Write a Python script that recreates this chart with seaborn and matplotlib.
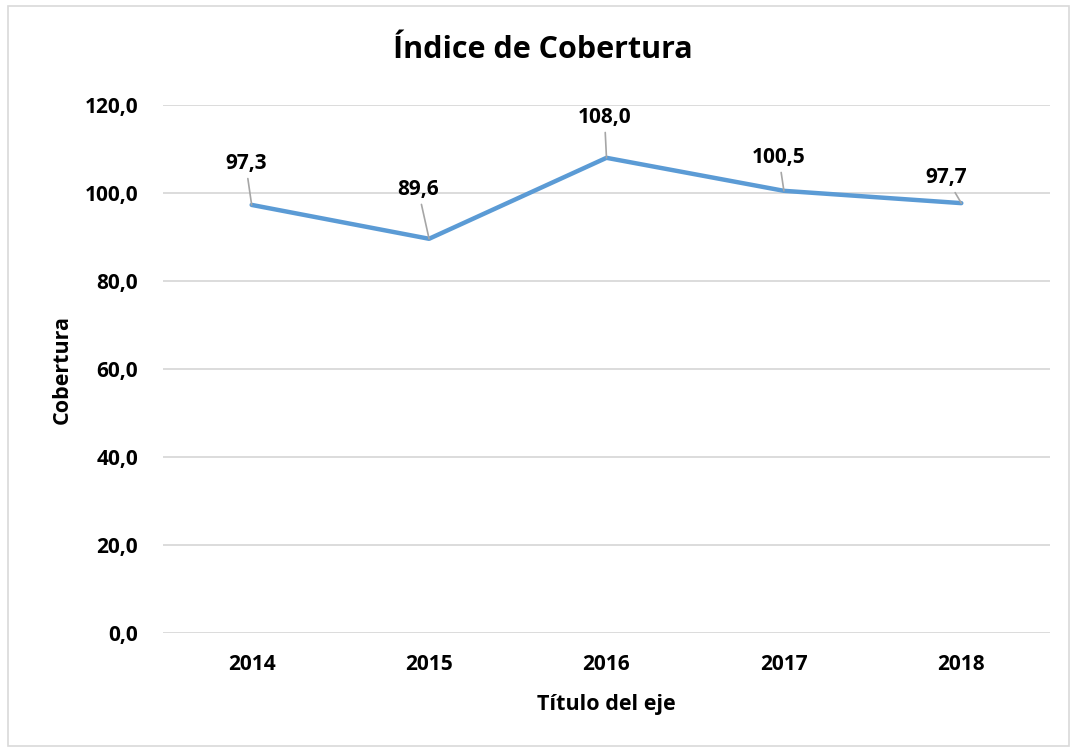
import seaborn as sns
import matplotlib.pyplot as plt
import pandas as pd
from matplotlib.ticker import FuncFormatter, MultipleLocator

anios = ['2014', '2015', '2016', '2017', '2018']
cobertura = [97.3, 89.6, 108.0, 100.5, 97.7]
# desplazamiento de las etiquetas (pixeles) respecto al punto
desp_x = [-6, -11, -2, -5, -15]
desp_y = [31, 39, 30, 23, 15]

df = pd.DataFrame({'anio': anios, 'cobertura': cobertura})

sns.set_style('white')
plt.rcParams['font.family'] = ['Open Sans', 'DejaVu Sans']
plt.rcParams['font.weight'] = 'bold'
plt.rcParams['text.color'] = 'black'
plt.rcParams['xtick.color'] = 'black'
plt.rcParams['ytick.color'] = 'black'
plt.rcParams['axes.labelcolor'] = 'black'

fig = plt.figure(figsize=(10.72, 7.48), dpi=100)
ax = fig.add_axes([0.152, 0.1537, 0.8275, 0.7059])

sns.lineplot(data=df, x='anio', y='cobertura', ax=ax, color='#5B9BD5',
             linewidth=3.2, sort=False)

ax.set_xlim(-0.5, 4.5)
ax.set_ylim(0, 120)
ax.yaxis.set_major_locator(MultipleLocator(20))
ax.yaxis.set_major_formatter(FuncFormatter(lambda v, p: f'{v:.1f}'.replace('.', ',')))
ax.grid(axis='y', color='#D9D9D9', linewidth=1.3)
ax.set_axisbelow(True)
for s in ['top', 'right', 'left', 'bottom']:
    ax.spines[s].set_visible(False)
ax.tick_params(axis='y', length=0, labelsize=15, pad=18)
ax.tick_params(axis='x', length=0, labelsize=15, pad=15)
for lab in ax.get_xticklabels() + ax.get_yticklabels():
    lab.set_fontweight('bold')

for i, v in enumerate(cobertura):
    ax.annotate(f'{v:.1f}'.replace('.', ','), xy=(i, v),
                xytext=(desp_x[i], desp_y[i]), textcoords='offset pixels',
                ha='center', va='bottom', fontsize=15, fontweight='bold',
                arrowprops=dict(arrowstyle='-', color='#A6A6A6', lw=1.2,
                                shrinkA=1, shrinkB=0))

fig.text(0.506, 0.933, 'Índice de Cobertura', fontsize=22, fontweight='bold',
         ha='center', va='center')
ax.set_xlabel('Título del eje', fontsize=15.5, fontweight='bold', labelpad=14)
ax.set_ylabel('Cobertura', fontsize=15.5, fontweight='bold', labelpad=8)

# borde del grafico
borde = plt.Rectangle((0.0075, 0.003), 0.99, 0.989, transform=fig.transFigure,
                      fill=False, edgecolor='#D9D9D9', linewidth=1.2)
fig.patches.append(borde)

plt.savefig('out.png', dpi=100)
